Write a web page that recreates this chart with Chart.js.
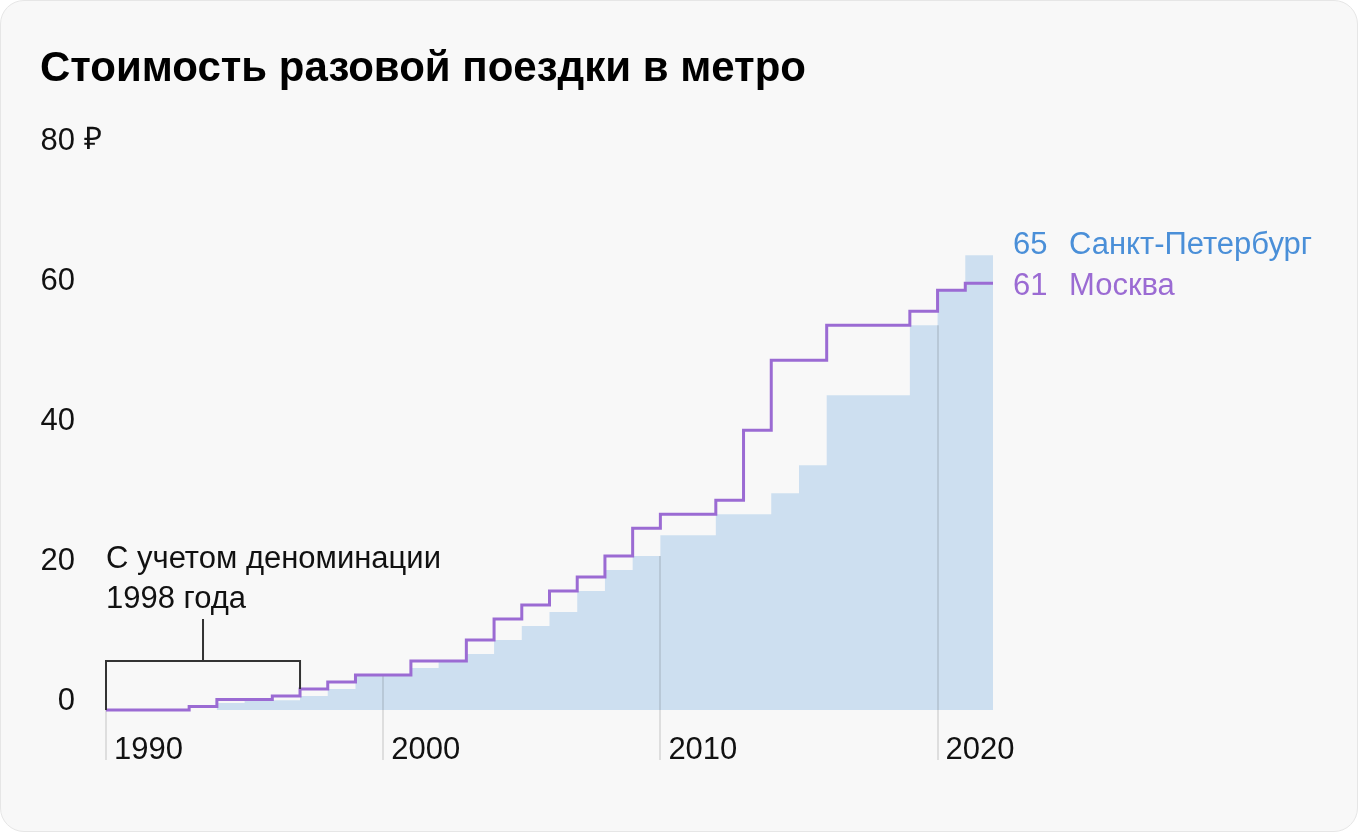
<!DOCTYPE html>
<html lang="ru">
<head>
<meta charset="utf-8">
<title>Стоимость разовой поездки в метро</title>
<script src="https://cdn.jsdelivr.net/npm/chart.js@4"></script>
<style>
  html, body { margin: 0; background: #fff; }
  .card { position: absolute; left: 0; top: 0; width: 1356px; height: 830px;
          border: 1px solid #e6e6e6; border-radius: 24px; background: #f8f8f8; overflow: hidden; }
  .wrap { position: absolute; left: -1px; top: -1px; width: 1358px; height: 832px; }
</style>
</head>
<body>
<div class="card"><div class="wrap"><canvas id="chart"></canvas></div></div>
<script>
// цена одной поездки по годам, руб. (с учетом деноминации 1998 г.)
var years = [1990, 1991, 1992, 1993, 1994, 1995, 1996, 1997, 1998, 1999,
             2000, 2001, 2002, 2003, 2004, 2005, 2006, 2007, 2008, 2009,
             2010, 2011, 2012, 2013, 2014, 2015, 2016, 2017, 2018, 2019,
             2020, 2021];
var endYear = 2022;
var moscow = [0, 0, 0, 0.5, 1.5, 1.5, 2, 3, 4, 5,
              5, 7, 7, 10, 13, 15, 17, 19, 22, 26,
              28, 28, 30, 40, 50, 50, 55, 55, 55, 57,
              60, 61];
var spb = [0, 0, 0, 0, 1, 1.3, 1.4, 2, 3, 5,
           5, 6, 7, 8, 10, 12, 14, 17, 20, 22,
           25, 25, 28, 28, 31, 35, 45, 45, 45, 55,
           60, 65];
var yTicks = [0, 20, 40, 60, 80];
var xTicks = [1990, 2000, 2010, 2020];
var seriesNames = ['Москва', 'Санкт-Петербург'];
var noteText = ['С учетом деноминации', '1998 года'];
var noteFrom = 1990, noteTo = 1997;

var PURPLE = '#9b6bd3';
var BLUE_FILL = '#cddff0';
var BLUE_TEXT = '#4a8fd8';
var FONT = '"Liberation Sans", Arial, sans-serif';
var TEXT_SIZE = 31;

function steps(values) {
  var pts = years.map(function(y, i) { return {x: y, y: values[i]}; });
  pts.push({x: endYear, y: values[values.length - 1]});
  return pts;
}

Chart.defaults.font.family = FONT;
Chart.defaults.font.size = TEXT_SIZE;
Chart.defaults.color = '#111';

var extras = {
  id: 'extras',
  afterDatasetDraw: function(chart, args) {
    if (args.index !== 1) return;
    // вертикальные линии сетки — только внутри заливки и под осью
    var ctx = chart.ctx, xs = chart.scales.x, ys = chart.scales.y;
    ctx.save();
    ctx.strokeStyle = 'rgba(0,0,0,0.1)';
    ctx.lineWidth = 2;
    xTicks.forEach(function(t) {
      var i = years.indexOf(t);
      var v = i > 0 ? Math.min(spb[i - 1], spb[i]) : 0;
      var px = Math.round(xs.getPixelForValue(t));
      ctx.beginPath();
      ctx.moveTo(px, ys.getPixelForValue(v));
      ctx.lineTo(px, chart.chartArea.bottom + 50);
      ctx.stroke();
    });
    ctx.restore();
  },
  afterDraw: function(chart) {
    var ctx = chart.ctx, xs = chart.scales.x, ys = chart.scales.y;
    var area = chart.chartArea;
    ctx.save();
    ctx.font = TEXT_SIZE + 'px ' + FONT;
    ctx.textBaseline = 'middle';

    // знак рубля у верхней отметки
    ctx.fillStyle = '#111';
    ctx.textAlign = 'left';
    ctx.fillText('₽', area.left - 22, ys.getPixelForValue(80) - 10);

    // скобка с подписью про деноминацию
    var x0 = xs.getPixelForValue(noteFrom), x1 = xs.getPixelForValue(noteTo);
    var xm = (x0 + x1) / 2;
    var yTop = ys.getPixelForValue(7), yStem = ys.getPixelForValue(13);
    ctx.strokeStyle = '#333';
    ctx.lineWidth = 2;
    ctx.beginPath();
    ctx.moveTo(x0, ys.getPixelForValue(0));
    ctx.lineTo(x0, yTop);
    ctx.lineTo(x1, yTop);
    ctx.lineTo(x1, ys.getPixelForValue(moscow[years.indexOf(noteTo)]));
    ctx.moveTo(xm, yTop);
    ctx.lineTo(xm, yStem);
    ctx.stroke();
    ctx.fillText(noteText[0], x0, yStem - 60);
    ctx.fillText(noteText[1], x0, yStem - 20);

    // подписи серий справа
    var lx = area.right + 20, nx = area.right + 76;
    var ySpb = ys.getPixelForValue(spb[spb.length - 1]) - 10;
    var yMsk = ys.getPixelForValue(moscow[moscow.length - 1]) + 3;
    ctx.fillStyle = BLUE_TEXT;
    ctx.fillText(String(spb[spb.length - 1]), lx, ySpb);
    ctx.fillText(seriesNames[1], nx, ySpb);
    ctx.fillStyle = PURPLE;
    ctx.fillText(String(moscow[moscow.length - 1]), lx, yMsk);
    ctx.fillText(seriesNames[0], nx, yMsk);
    ctx.restore();
  }
};

var chart = new Chart(document.getElementById('chart'), {
  type: 'line',
  data: {
    datasets: [{
      label: seriesNames[0],
      data: steps(moscow),
      stepped: true,
      borderColor: PURPLE,
      borderWidth: 3,
      pointRadius: 0,
      fill: false,
      clip: false
    }, {
      label: seriesNames[1],
      data: steps(spb),
      stepped: true,
      borderWidth: 0,
      borderColor: 'rgba(0,0,0,0)',
      backgroundColor: BLUE_FILL,
      pointRadius: 0,
      fill: 'origin'
    }]
  },
  options: {
    responsive: true,
    maintainAspectRatio: false,
    animation: false,
    layout: { padding: { left: 40, right: 365, top: 0, bottom: 62 } },
    plugins: {
      legend: { display: false },
      tooltip: { enabled: false },
      title: {
        display: true,
        text: 'Стоимость разовой поездки в метро',
        align: 'start',
        color: '#000',
        font: { size: 42, weight: 'bold' },
        padding: { top: 44, bottom: 56 }
      }
    },
    scales: {
      x: {
        type: 'linear',
        min: 1990,
        max: endYear,
        grid: { display: false, drawTicks: false },
        border: { display: false },
        afterBuildTicks: function(s) { s.ticks = xTicks.map(function(v) { return {value: v}; }); },
        afterFit: function(s) { s.height = 60; },
        ticks: {
          align: 'start',
          labelOffset: 8,
          padding: 22,
          maxRotation: 0,
          callback: function(v) { return String(v); }
        }
      },
      y: {
        min: 0,
        max: 80,
        grid: { display: false, drawTicks: false },
        border: { display: false },
        afterBuildTicks: function(s) { s.ticks = yTicks.map(function(v) { return {value: v}; }); },
        afterFit: function(s) { s.width = 66; },
        ticks: {
          padding: 31,
          labelOffset: -9,
          callback: function(v) { return String(v); }
        }
      }
    }
  },
  plugins: [extras]
});
</script>
</body>
</html>
